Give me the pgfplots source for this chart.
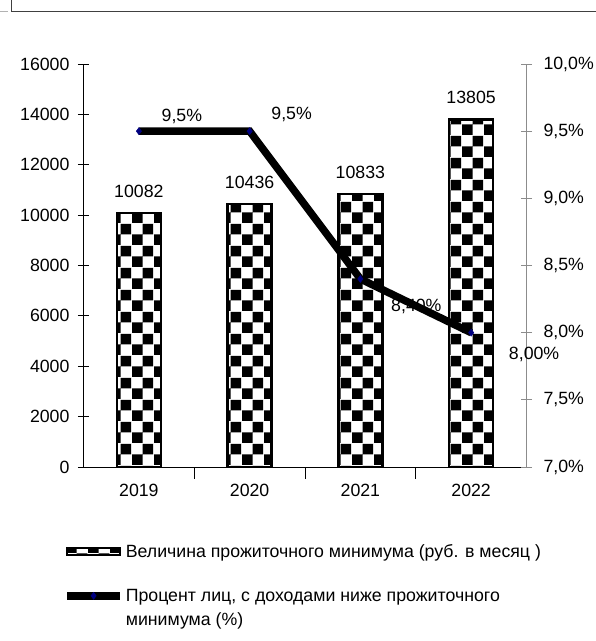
\documentclass[border=0pt]{standalone}
\usepackage{pgfplots}
\pgfplotsset{compat=1.18}
\usepackage{fontspec}
\setmainfont{Liberation Sans}
\usetikzlibrary{patterns}
\definecolor{navy}{RGB}{0,0,128}
\pgfdeclarepatternformonly{bigchecker}{\pgfqpoint{0bp}{0bp}}{\pgfqpoint{22bp}{22bp}}{\pgfqpoint{22bp}{22bp}}{%
 \pgfpathrectangle{\pgfqpoint{0bp}{0bp}}{\pgfqpoint{11bp}{11bp}}%
 \pgfpathrectangle{\pgfqpoint{11bp}{11bp}}{\pgfqpoint{11bp}{11bp}}%
 \pgfusepath{fill}}
\newcommand{\chartfont}{\fontsize{17.8}{21}\selectfont}
\pgfplotsset{
  every axis/.append style={font=\chartfont},
  every tick label/.append style={font=\chartfont},
  /pgf/number format/1000 sep={},
  /pgf/number format/assume math mode=true,
  mylinelegend/.style={legend image code/.code={\draw[##1, mark repeat=2, mark phase=2] plot coordinates {(0bp,6bp) (26.5bp,6bp) (53bp,6bp)};}},
  mybarlegend/.style={legend image code/.code={\draw[draw=black, line width=2bp, fill=white, postaction={pattern=bigchecker}] (0bp,2bp) rectangle (53bp,9.5bp);}},
}
\begin{document}
\begin{tikzpicture}
\path[use as bounding box] (0,0) rectangle (596bp,641bp);
\draw[line width=1bp, black!75] (11.5bp,641bp) -- (11.5bp,629bp) -- (596bp,629bp);
\draw[line width=1bp, black!30] (0,629bp) -- (8bp,629bp);
\begin{axis}[
  at={(83.5bp,174bp)}, anchor=south west,
  scale only axis, width=443bp, height=403bp,
  xmin=-0.5, xmax=3.5, ymin=0, ymax=16000,
  axis x line*=bottom, axis y line*=left,
  axis line style={black, line width=0.8bp},
  xtick={0,1,2,3}, xticklabels={2019,2020,2021,2022},
  major x tick style={draw=none},
  minor xtick={0.5,1.5,2.5},
  minor tick length=12bp,
  minor x tick style={black, line width=0.8bp},
  ytick={0,2000,...,16000},
  scaled y ticks=false,
  tick align=center, major tick length=11bp,
  major y tick style={black, line width=0.8bp},
  yticklabel style={xshift=-5bp},
  xticklabel style={yshift=-3bp},
  ybar, bar width=44bp,
  nodes near coords,
  nodes near coords style={font=\chartfont, yshift=11bp},
]
\addplot[draw=black, line width=2.5bp, fill=white, postaction={pattern=bigchecker}]
  coordinates {(0,10082) (1,10436) (2,10833) (3,13805)};
\end{axis}
\begin{axis}[
  at={(83.5bp,174bp)}, anchor=south west,
  scale only axis, width=443bp, height=403bp,
  xmin=-0.5, xmax=3.5, ymin=7, ymax=10,
  axis x line=none, axis y line*=right,
  axis line style={black!45, line width=0.8bp},
  ytick={7,7.5,8,8.5,9,9.5,10},
  yticklabels={{7,0\%},{7,5\%},{8,0\%},{8,5\%},{9,0\%},{9,5\%},{10,0\%}},
  tick align=center, major tick length=11bp,
  major y tick style={black!45, line width=0.8bp},
  yticklabel style={xshift=8bp},
  legend style={draw=none, fill=none, at={(-0.046,-0.186)}, anchor=north west,
    inner sep=0pt, row sep=27bp, column sep=0bp,
    cells={anchor=base west},
    font=\fontsize{17.8}{24}\selectfont},
]
\addlegendimage{mybarlegend}
\addlegendentry{Величина прожиточного минимума (руб. в месяц )}
\addplot[black, line width=7.5bp, mark=diamond*, mark size=3.5bp,
  mark options={navy, fill=navy, line width=0.5bp},
  mylinelegend,
  nodes near coords, point meta=explicit symbolic,
  visualization depends on={value \thisrow{dx}\as\dx},
  visualization depends on={value \thisrow{dy}\as\dy},
  nodes near coords style={anchor=center, xshift=\dx bp, yshift=\dy bp, black, font=\chartfont},
] table[x=x, y=y, meta=lbl] {
x y lbl dx dy
0 9.5 {9,5\%} 43 15
1 9.5 {9,5\%} 42 17
2 8.4 {8,40\%} 56 -28
3 8.0 {8,00\%} 63 -22
};
\addlegendentry{\parbox[t]{420bp}{\raggedright Процент лиц, с доходами ниже прожиточного\\минимума (\%)}}
\end{axis}
\end{tikzpicture}
\end{document}
